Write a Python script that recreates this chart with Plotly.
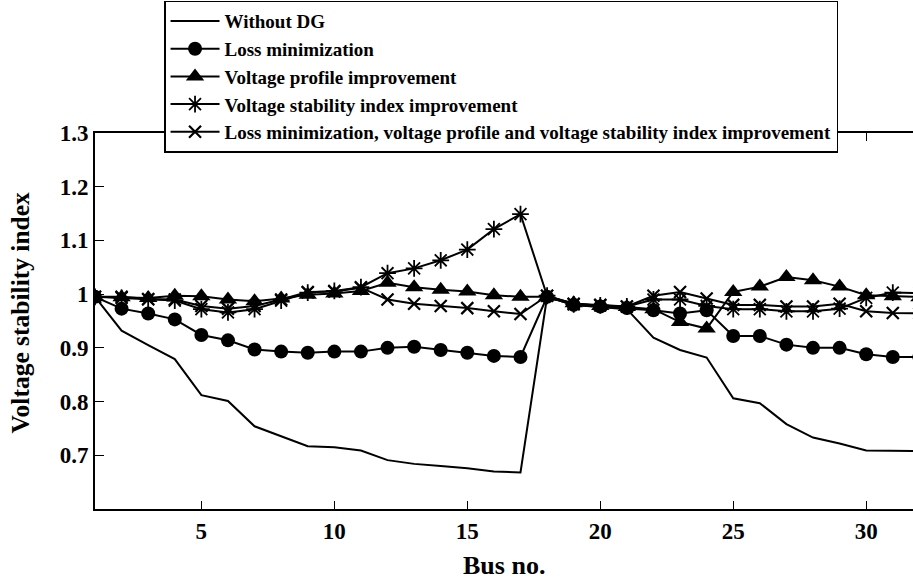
import plotly.graph_objects as go

bus = list(range(1, 34))

without_dg = [0.995, 0.932, 0.905, 0.879, 0.812, 0.801, 0.754, 0.735, 0.717, 0.715, 0.709,
              0.691, 0.684, 0.680, 0.676, 0.670, 0.668, 0.995, 0.980, 0.976, 0.972, 0.919,
              0.896, 0.882, 0.806, 0.797, 0.758, 0.733, 0.722, 0.709, 0.708, 0.707, 0.707]

loss_min = [0.995, 0.973, 0.964, 0.953, 0.924, 0.914, 0.897, 0.893, 0.891, 0.893, 0.893,
            0.900, 0.902, 0.896, 0.891, 0.885, 0.883, 0.995, 0.980, 0.977, 0.974, 0.970,
            0.964, 0.970, 0.922, 0.922, 0.906, 0.900, 0.900, 0.888, 0.883, 0.883, 0.883]

vp_impr = [0.995, 0.994, 0.993, 0.997, 0.996, 0.990, 0.987, 0.992, 0.999, 1.001, 1.006,
           1.021, 1.013, 1.008, 1.005, 0.998, 0.995, 0.995, 0.983, 0.978, 0.976, 0.972,
           0.948, 0.936, 1.004, 1.014, 1.032, 1.026, 1.014, 0.998, 0.996, 0.994, 0.993]

vsi_impr = [0.995, 0.993, 0.990, 0.988, 0.972, 0.966, 0.972, 0.988, 1.003, 1.006, 1.013,
            1.039, 1.048, 1.063, 1.083, 1.121, 1.149, 0.997, 0.981, 0.979, 0.977, 0.990,
            0.990, 0.978, 0.972, 0.972, 0.968, 0.968, 0.973, 0.993, 1.003, 1.002, 1.000]

combined = [0.995, 0.995, 0.991, 0.990, 0.978, 0.973, 0.978, 0.990, 1.004, 1.005, 1.012,
            0.990, 0.982, 0.978, 0.974, 0.968, 0.963, 0.997, 0.982, 0.980, 0.977, 0.997,
            1.004, 0.992, 0.980, 0.980, 0.977, 0.977, 0.982, 0.968, 0.965, 0.964, 0.964]

names = ["Without DG", "Loss minimization", "Voltage profile improvement",
         "Voltage stability index improvement",
         "Loss minimization, voltage profile and voltage stability index improvement"]

y_ticks = [0.7, 0.8, 0.9, 1.0, 1.1, 1.2, 1.3]
y_ticktext = ["0.7", "0.8", "0.9", "1", "1.1", "1.2", "1.3"]
x_ticks = [5, 10, 15, 20, 25, 30]

FONT = "Liberation Serif"
BLACK = "black"

fig = go.Figure()
fig.add_trace(go.Scatter(x=bus, y=without_dg, name=names[0], mode="lines",
                         line=dict(color=BLACK, width=2)))
fig.add_trace(go.Scatter(x=bus, y=loss_min, name=names[1], mode="lines+markers",
                         line=dict(color=BLACK, width=2),
                         marker=dict(symbol="circle", size=14, color=BLACK)))
fig.add_trace(go.Scatter(x=bus, y=vp_impr, name=names[2], mode="lines+markers",
                         line=dict(color=BLACK, width=2),
                         marker=dict(symbol="triangle-up", size=16, color=BLACK)))
fig.add_trace(go.Scatter(x=bus, y=vsi_impr, name=names[3], mode="lines+markers",
                         line=dict(color=BLACK, width=2),
                         marker=dict(symbol="asterisk-open", size=14, color=BLACK,
                                     line=dict(color=BLACK, width=1.8))))
fig.add_trace(go.Scatter(x=bus, y=combined, name=names[4], mode="lines+markers",
                         line=dict(color=BLACK, width=2),
                         marker=dict(symbol="x-thin-open", size=12, color=BLACK,
                                     line=dict(color=BLACK, width=2.2))))

tickfont = dict(family=FONT, size=23, color=BLACK, weight="bold")

fig.update_layout(
    width=913, height=581,
    margin=dict(l=95, r=0, t=133, b=72),
    paper_bgcolor="white", plot_bgcolor="white",
    showlegend=True,
    legend=dict(x=0.0844, y=1.352, xanchor="left", yanchor="top",
                bgcolor="white", bordercolor=BLACK, borderwidth=1.5,
                font=dict(family=FONT, size=19, color=BLACK, weight="bold"),
                tracegroupgap=0, itemwidth=49),
    xaxis=dict(range=[1, 31.76], tickvals=x_ticks, ticks="inside", ticklen=8,
               tickcolor=BLACK, tickwidth=1, showline=True, linecolor=BLACK,
               linewidth=2, mirror="ticks", showgrid=False, zeroline=False,
               tickfont=tickfont, ticklabelstandoff=0),
    yaxis=dict(range=[0.6, 1.3], tickvals=y_ticks, ticktext=y_ticktext,
               ticks="inside", ticklen=9, tickcolor=BLACK, tickwidth=1,
               showline=True, linecolor=BLACK, linewidth=2, showgrid=False,
               zeroline=False, tickfont=tickfont),
    yaxis2=dict(range=[0.6, 1.3], tickvals=y_ticks, overlaying="y", side="right",
                ticks="inside", ticklen=4, tickcolor=BLACK, showticklabels=False,
                showline=False, showgrid=False, zeroline=False),
    annotations=[
        dict(text="Voltage stability index", xref="paper", yref="paper",
             x=-0.0905, y=0.5226, textangle=-90, showarrow=False,
             xanchor="center", yanchor="middle",
             font=dict(family=FONT, size=25.5, color=BLACK, weight="bold")),
        dict(text="Bus no.", xref="paper", yref="paper", x=0.5, y=-0.149,
             showarrow=False, xanchor="center", yanchor="middle",
             font=dict(family=FONT, size=26, color=BLACK, weight="bold")),
    ],
)

fig.write_html("out.html")
